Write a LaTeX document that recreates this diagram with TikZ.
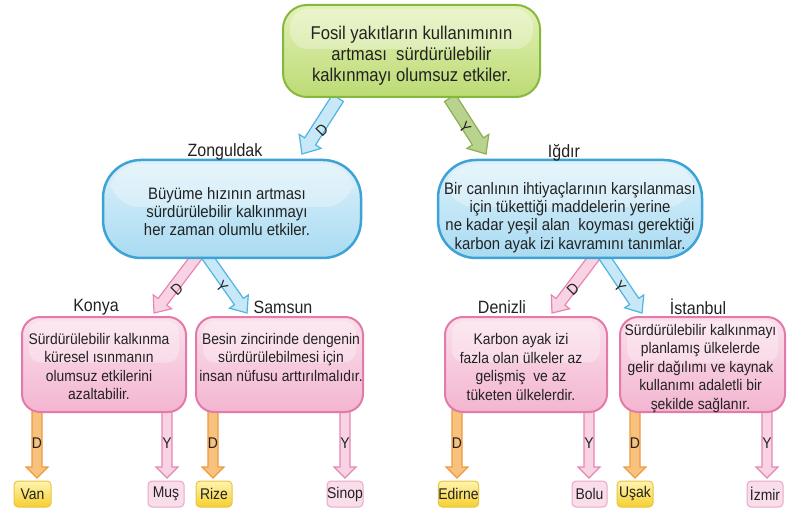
\documentclass[tikz,border=0pt]{standalone}
\usepackage{fontspec}
\setmainfont[FakeStretch=0.9]{Liberation Sans}
\usetikzlibrary{calc}
\definecolor{grB}{HTML}{86B83E}
\definecolor{grT}{HTML}{E3F1B8}
\definecolor{grM}{HTML}{BCDB74}
\definecolor{blB}{HTML}{3DA2D6}
\definecolor{blT}{HTML}{DDF1FA}
\definecolor{blM}{HTML}{A9DBF2}
\definecolor{pkB}{HTML}{E27AAA}
\definecolor{pkT}{HTML}{FBE0EC}
\definecolor{pkM}{HTML}{F3B5D1}
\definecolor{arB}{HTML}{4DB4E4}
\definecolor{arBf}{HTML}{C8E8F7}
\definecolor{arG}{HTML}{8BAF55}
\definecolor{arGf}{HTML}{B9D38E}
\definecolor{arP}{HTML}{E886B2}
\definecolor{arPf}{HTML}{F8D3E4}
\definecolor{arO}{HTML}{F09A3E}
\definecolor{arOf}{HTML}{F8C27E}
\definecolor{lfY}{HTML}{E8C445}
\definecolor{lfYt}{HTML}{FFF4B0}
\definecolor{lfYb}{HTML}{F6CF2E}
\definecolor{lfP}{HTML}{E9A8C7}
\definecolor{lfPf}{HTML}{F9DDEA}
\definecolor{txt}{HTML}{222222}
\newcommand\blockarrow[6]{% #1 style, #2 start, #3 tip, #4 shaft half width, #5 head half width, #6 head length
  \coordinate (ba-n) at ($(#3)!#6!(#2)$);
  \draw[#1] ($(#2)!#4!90:(#3)$) -- ($(ba-n)!#4!-90:(#2)$) -- ($(ba-n)!#5!-90:(#2)$) -- (#3)
    -- ($(ba-n)!#5!90:(#2)$) -- ($(ba-n)!#4!90:(#2)$) -- ($(#2)!#4!-90:(#3)$) -- cycle;
}
\tikzset{
  topbox/.style={draw=grB, line width=2pt, rounded corners=24pt, top color=grT, bottom color=grM,
    minimum width=257pt, minimum height=92pt, inner sep=0pt},
  midbox/.style={draw=blB, line width=2.5pt, rounded corners=38pt, top color=blT, bottom color=blM,
    minimum height=98pt, inner sep=0pt},
  lowbox/.style={draw=pkB, line width=2pt, rounded corners=18pt, top color=pkT, bottom color=pkM,
    minimum height=95pt, inner sep=0pt},
  gloss/.style={white, opacity=.3},
  ttop/.style={align=center, text=txt, inner sep=0pt, font=\fontsize{18.5}{21}\selectfont},
  tmid/.style={align=center, text=txt, inner sep=0pt, font=\fontsize{16.6}{18.3}\selectfont},
  tlow/.style={align=center, text=txt, inner sep=0pt, font=\fontsize{15.4}{18.5}\selectfont},
  tlab/.style={text=txt, inner sep=0pt, font=\fontsize{17.8}{19}\selectfont},
  tlet/.style={text=txt, inner sep=0pt, font=\fontsize{15.5}{16}\selectfont},
  leafY/.style={draw=lfY, line width=1pt, rounded corners=4pt, top color=lfYt, bottom color=lfYb,
    minimum height=26pt, inner sep=0pt, text=txt, font=\fontsize{15.5}{16}\selectfont},
  leafP/.style={draw=lfP, line width=1pt, rounded corners=4pt, fill=lfPf,
    minimum height=26pt, inner sep=0pt, text=txt, font=\fontsize{15.5}{16}\selectfont},
  blueA/.style={draw=arB, fill=arBf, line width=1.2pt},
  greenA/.style={draw=arG, fill=arGf, line width=1.2pt},
  pinkA/.style={draw=arP, fill=arPf, line width=1.2pt},
  orangeA/.style={draw=arO, fill=arOf, line width=1.2pt},
}
\begin{document}
\begin{tikzpicture}[x=1pt,y=-1pt]
\useasboundingbox (0,0) rectangle (802,518);
% arrow end points
\coordinate (a1s) at (338,98);  \coordinate (a1e) at (302,154);
\coordinate (a2s) at (450,98);  \coordinate (a2e) at (486,154);
\coordinate (a3s) at (198,255); \coordinate (a3e) at (154,313);
\coordinate (a4s) at (206,255); \coordinate (a4e) at (247,313);
\coordinate (a5s) at (596,255); \coordinate (a5e) at (552,313);
\coordinate (a6s) at (603,255); \coordinate (a6e) at (642,313);
\foreach \n/\x in {1/37,2/167,3/213,4/345,5/457,6/589,7/635,8/767}{
  \coordinate (v\n s) at (\x,409);
  \coordinate (v\n e) at (\x,478);
}
% arrows
\blockarrow{blueA}{a1s}{a1e}{6.5pt}{13pt}{15pt}
\blockarrow{greenA}{a2s}{a2e}{6.5pt}{13pt}{15pt}
\blockarrow{pinkA}{a3s}{a3e}{5.5pt}{11.5pt}{14pt}
\blockarrow{blueA}{a4s}{a4e}{5.5pt}{11.5pt}{14pt}
\blockarrow{pinkA}{a5s}{a5e}{5.5pt}{11.5pt}{14pt}
\blockarrow{blueA}{a6s}{a6e}{5.5pt}{11.5pt}{14pt}
\foreach \n in {1,3,5,7}{\blockarrow{orangeA}{v\n s}{v\n e}{5pt}{11pt}{11pt}}
\foreach \n in {2,4,6,8}{\blockarrow{pinkA}{v\n s}{v\n e}{5pt}{11pt}{11pt}}
% boxes
\node[topbox] (top) at (411.5,51) {};
\node[midbox, minimum width=258pt] (zon) at (232,209) {};
\node[midbox, minimum width=264pt] (igd) at (570,209) {};
\node[lowbox, minimum width=164pt] (kon) at (104,364.5) {};
\node[lowbox, minimum width=167pt] (sam) at (279.5,364.5) {};
\node[lowbox, minimum width=162pt] (den) at (526,364.5) {};
\node[lowbox, minimum width=165pt] (ist) at (702.5,364.5) {};
% gloss highlights
\foreach \b/\r in {top/18pt,zon/30pt,igd/30pt,kon/12pt,sam/12pt,den/12pt,ist/12pt}{
  \fill[gloss, rounded corners=\r] ($(\b.north west)+(8,5)$) rectangle ($(\b.east)+(-8,-2)$);
}
% texts
\node[ttop] (toptxt) at (411.5,56) {Fosil yakıtların kullanımının\\artması\ \ sürdürülebilir\\kalkınmayı olumsuz etkiler.};
\node[tmid] (zontxt) at (227,211.5) {Büyüme hızının artması\\sürdürülebilir kalkınmayı\\her zaman olumlu etkiler.};
\node[tmid] (igdtxt) at (570,217.5) {Bir canlının ihtiyaçlarının karşılanması\\için tükettiği maddelerin yerine\\ne kadar yeşil alan\ \ koyması gerektiği\\karbon ayak izi kavramını tanımlar.};
\node[tlow] (kontxt) at (99,366.5) {Sürdürülebilir kalkınma\\küresel ısınmanın\\olumsuz etkilerini\\azaltabilir.};
\node[tlow] (samtxt) at (281,357) {Besin zincirinde dengenin\\sürdürülebilmesi için\\insan nüfusu arttırılmalıdır.};
\node[tlow] (dentxt) at (521,367) {Karbon ayak izi\\fazla olan ülkeler az\\gelişmiş\ \ ve az\\tüketen ülkelerdir.};
\node[tlow] (isttxt) at (700.5,368.5) {Sürdürülebilir kalkınmayı\\planlamış ülkelerde\\gelir dağılımı ve kaynak\\kullanımı adaletli bir\\şekilde sağlanır.};
% city labels
\node[tlab] (lzon) at (225,152) {Zonguldak};
\node[tlab] (ligd) at (564,153) {Iğdır};
\node[tlab] (lkon) at (96,307) {Konya};
\node[tlab] (lsam) at (283,307) {Samsun};
\node[tlab] (lden) at (502,307) {Denizli};
\node[tlab] (list) at (698,307) {İstanbul};
% arrow letters
\node[tlet, rotate=45] (d1) at (322,130) {D};
\node[tlet, rotate=-50] (y1) at (465,128) {Y};
\node[tlet, rotate=45] (d2) at (177,289) {D};
\node[tlet, rotate=-50] (y2) at (222,287) {Y};
\node[tlet, rotate=45] (d3) at (573,289) {D};
\node[tlet, rotate=-50] (y3) at (620,287) {Y};
\foreach \n/\x/\l in {1/37/D,2/167/Y,3/213/D,4/345/Y,5/457/D,6/589/Y,7/635/D,8/767/Y}{
  \node[tlet] (let\n) at (\x,443) {\l};
}
% leaves
\node[leafY, minimum width=37pt] (van) at (32.5,494) {Van};
\node[leafP, minimum width=36pt] (mus) at (166,494) {Muş};
\node[leafY, minimum width=36pt] (rize) at (214,494) {Rize};
\node[leafP, minimum width=36pt] (sinop) at (345,494) {Sinop};
\node[leafY, minimum width=39pt] (edirne) at (458.5,494) {Edirne};
\node[leafP, minimum width=35pt] (bolu) at (589.5,494) {Bolu};
\node[leafY, minimum width=36pt] (usak) at (635,494) {Uşak};
\node[leafP, minimum width=36pt] (izmir) at (765,494) {İzmir};
\end{tikzpicture}
\end{document}
